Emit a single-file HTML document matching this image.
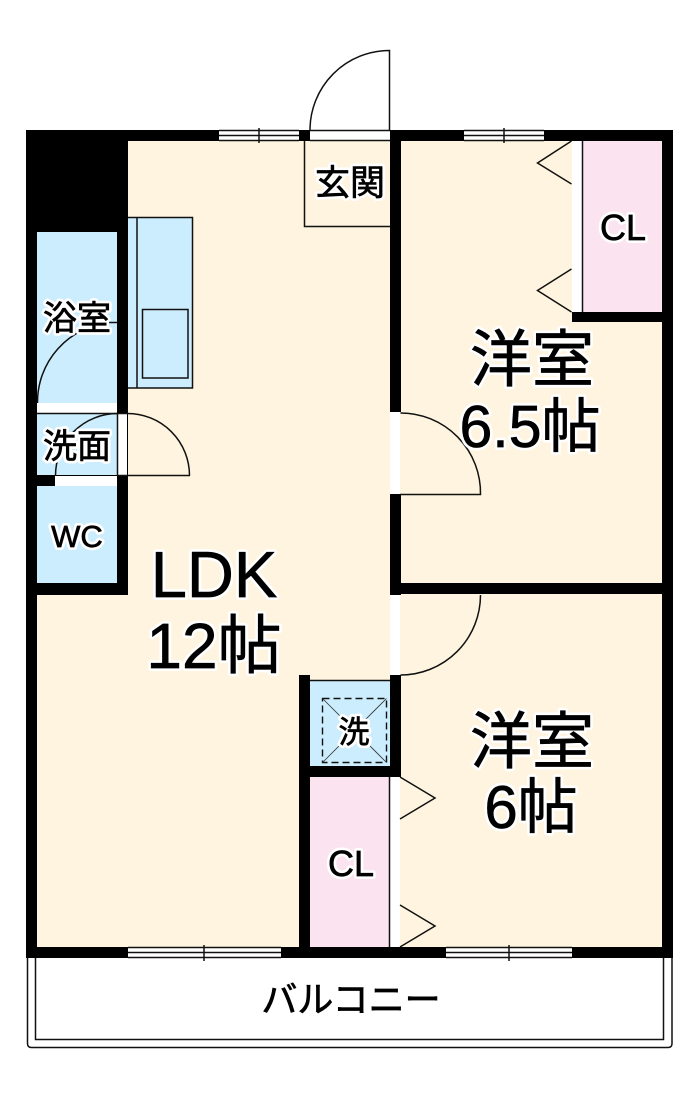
<!DOCTYPE html>
<html><head><meta charset="utf-8"><style>
html,body{margin:0;padding:0;background:#fff}
svg{display:block}
text{font-family:"Liberation Sans","Noto Sans CJK JP",sans-serif;fill:#000;stroke:#000;stroke-width:.7px;text-anchor:middle}
.h text{stroke:#fff;fill:#fff;stroke-width:6px;stroke-linejoin:round}
.l{fill:none;stroke:#111;stroke-width:1.5}
.b{fill:#000}
.w{fill:#fff}
</style></head><body>
<svg width="700" height="1094" viewBox="0 0 700 1094" xmlns="http://www.w3.org/2000/svg">
<rect x="0" y="0" width="700" height="1094" fill="#fff"/>
<!-- floors -->
<rect x="37" y="141" width="625" height="806" fill="#fef4e0"/>
<!-- blue rooms -->
<rect x="37" y="232" width="80" height="171" fill="#ccedfd"/>
<rect x="37" y="413" width="80" height="62" fill="#ccedfd"/>
<rect x="37" y="486" width="80" height="97" fill="#ccedfd"/>
<rect x="128" y="217" width="64" height="171" fill="#ccedfd"/>
<rect x="310" y="681" width="80" height="85" fill="#ccedfd"/>
<!-- pink -->
<rect x="583" y="141" width="79" height="171" fill="#fbe4ef"/>
<rect x="310" y="777" width="80" height="170" fill="#fbe4ef"/>
<!-- walls -->
<rect class="b" x="26" y="130" width="647" height="11"/>
<rect class="b" x="26" y="130" width="11" height="828"/>
<rect class="b" x="662" y="130" width="11" height="828"/>
<rect class="b" x="26" y="947" width="647" height="11"/>
<rect class="b" x="26" y="130" width="102" height="102"/>
<rect class="b" x="117" y="130" width="11" height="465"/>
<rect class="b" x="37" y="475" width="91" height="11"/>
<rect class="b" x="37" y="583" width="91" height="12"/>
<rect class="b" x="390" y="130" width="11" height="282"/>
<rect class="b" x="390" y="494" width="11" height="101"/>
<rect class="b" x="390" y="583" width="283" height="11"/>
<rect class="b" x="390" y="675" width="11" height="102"/>
<rect class="b" x="299" y="675" width="11" height="283"/>
<rect class="b" x="299" y="766" width="102" height="11"/>
<rect class="b" x="572" y="312" width="90" height="10"/>
<!-- white openings -->
<rect class="w" x="37" y="403" width="80" height="10"/>
<rect class="w" x="118" y="413" width="9" height="62"/>
<rect class="w" x="55" y="476" width="62" height="10"/>
<rect class="w" x="310" y="131" width="80" height="9"/>
<rect class="w" x="390" y="412" width="10" height="82"/>
<rect class="w" x="390" y="595" width="10" height="80"/>
<rect class="w" x="572" y="141" width="10" height="171"/>
<rect class="w" x="390" y="777" width="10" height="170"/>
<!-- windows -->
<g>
<rect class="w" x="219" y="130" width="80" height="11"/>
<rect class="w" x="464" y="130" width="80" height="11"/>
<rect class="w" x="128" y="947" width="153" height="11"/>
<rect class="w" x="446" y="947" width="126" height="11"/>
<path class="l" d="M219 130.500H299M219 135.500H299M219 140.500H299M259 128V143"/>
<path class="l" d="M464 130.500H544M464 135.500H544M464 140.500H544M504 128V143"/>
<path class="l" d="M128 947.500H281M128 952.500H281M128 957.500H281M204 945V961"/>
<path class="l" d="M446 947.500H572M446 952.500H572M446 957.500H572M509 945V961"/>
</g>
<!-- kitchen -->
<path class="l" d="M128 217.500H192.500V388H128M137 217V388"/>
<rect class="l" x="142.500" y="309.500" width="45.500" height="68.500"/>
<!-- entry -->
<path class="l" d="M304.500 141V226.500H390"/>
<path class="l" d="M310 130.500H390M310 140.500H390"/>
<path class="l" d="M389.500 130V50.500A79.500 79.500 0 0 0 310 130"/>
<!-- bath / wash -->
<path class="l" d="M37 413.500H117M117.500 413V475M117 475.500H190"/>
<path class="l" d="M189.500 475.500A62 62 0 0 0 127.500 413.500H117"/>
<path class="l" d="M55.500 476A62 62 0 0 1 117.500 413.500"/>
<path class="l" d="M37.500 403A80 80 0 0 1 110 322.500H117"/>
<!-- room doors -->
<path class="l" d="M400.500 413A80 80 0 0 1 480.500 494.500H400"/>
<path class="l" d="M480.500 595A80 80 0 0 1 400.500 675"/>
<path class="l" d="M310 680.500H390"/>
<!-- closet triangles -->
<path class="l" d="M571.500 141L537.500 163L571.500 184"/>
<path class="l" d="M571.500 269L537.500 290.500L571.500 312"/>
<path class="l" d="M400 777L435 798L400 819"/>
<path class="l" d="M400 905L435 926L400 947"/>
<path class="l" d="M582.500 141V312M389.500 777V947"/>
<!-- washer -->
<rect x="322.500" y="698.500" width="64" height="64" fill="none" stroke="#111" stroke-width="1.4" stroke-dasharray="7 4"/>
<path d="M322.500 698.500L386.500 762.500M386.500 698.500L322.500 762.500" stroke="#333" stroke-width="0.8" fill="none"/>
<!-- balcony -->
<path class="l" d="M35.500 958V1039.500H663.500V958"/>
<path class="l" d="M27.500 958V1043.500Q27.500 1047.500 31.500 1047.500H668Q672 1047.500 672 1043.500V958"/>
<!-- labels: white halo layer -->
<g class="h">
<text x="214" y="597" font-size="65">LDK</text>
<text x="214" y="668" font-size="64">12帖</text>
<text x="532" y="381" font-size="62">洋室</text>
<text x="530" y="447" font-size="59">6.5帖</text>
<text x="532" y="763" font-size="62">洋室</text>
<text x="531" y="828" font-size="60">6帖</text>
<text x="350" y="195" font-size="35">玄関</text>
<text x="77" y="330" font-size="34">浴室</text>
<text x="77" y="458" font-size="34">洗面</text>
<text x="77" y="547" font-size="31">WC</text>
<text x="623" y="240" font-size="36">CL</text>
<text x="351" y="876" font-size="36">CL</text>
<text x="354" y="743" font-size="31">洗</text>
</g>
<!-- labels: text layer -->
<text x="214" y="597" font-size="65">LDK</text>
<text x="214" y="668" font-size="64">12帖</text>
<text x="532" y="381" font-size="62">洋室</text>
<text x="530" y="447" font-size="59">6.5帖</text>
<text x="532" y="763" font-size="62">洋室</text>
<text x="531" y="828" font-size="60">6帖</text>
<text x="350" y="195" font-size="35">玄関</text>
<text x="77" y="330" font-size="34">浴室</text>
<text x="77" y="458" font-size="34">洗面</text>
<text x="77" y="547" font-size="31">WC</text>
<text x="623" y="240" font-size="36">CL</text>
<text x="351" y="876" font-size="36">CL</text>
<text x="354" y="743" font-size="31">洗</text>
<text x="351" y="1012" font-size="36">バルコニー</text>
</svg>
</body></html>
